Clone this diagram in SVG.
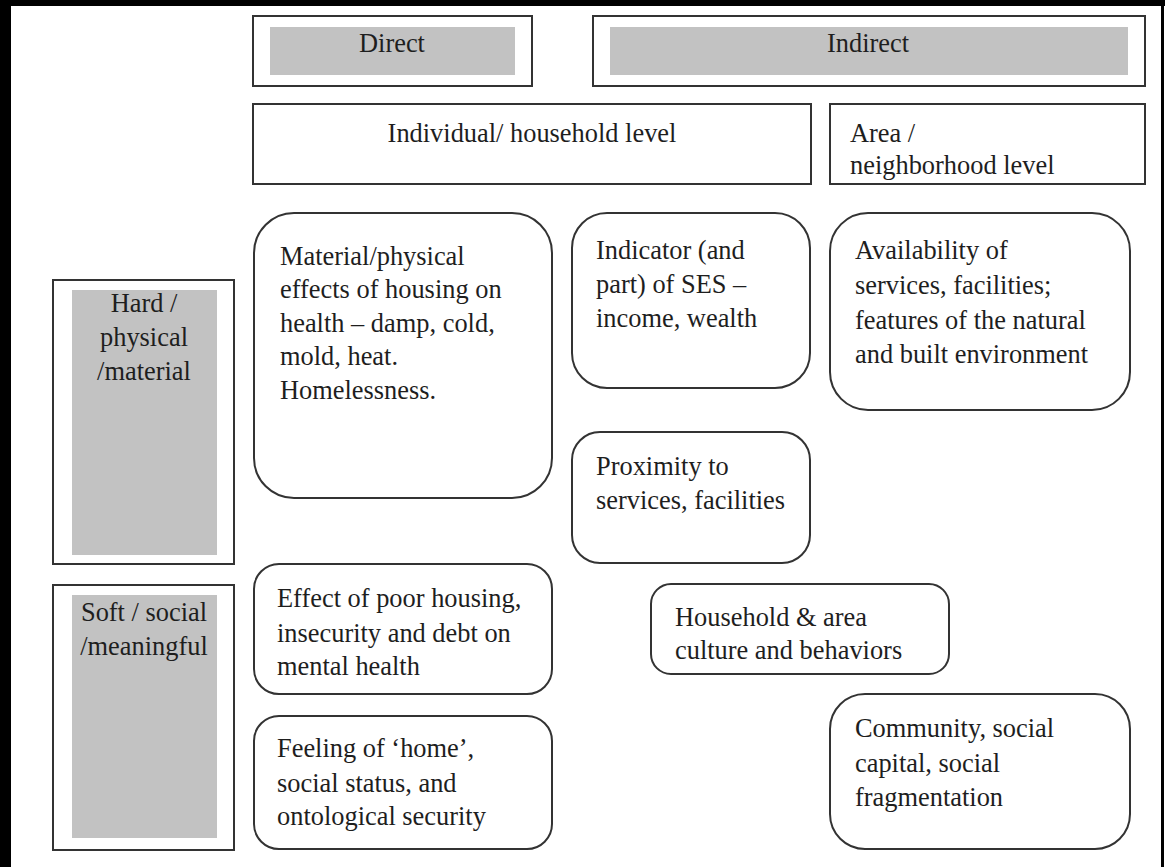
<svg xmlns="http://www.w3.org/2000/svg" width="1165" height="867" viewBox="0 0 1165 867" font-family="Liberation Serif, Times New Roman, serif">
<style>
text{font-family:"Liberation Serif","Times New Roman",serif;font-size:26.4px;fill:#1e1e1e}
.box{fill:#fff;stroke:#333;stroke-width:2}
.gray{fill:#c2c2c2;stroke:none}
.rnd{fill:#fff;stroke:#333;stroke-width:2}
.c{text-anchor:middle}
</style>
<rect x="0" y="0" width="1165" height="867" fill="#fff"/>
<g id="frame">
<rect x="0" y="0" width="1165" height="6" fill="#000"/>
<rect x="0" y="0" width="11" height="867" fill="#000"/>
<rect x="1161" y="0" width="3" height="867" fill="#000"/>
</g>
<g id="direct">
<rect class="box" x="253" y="16" width="279" height="70"/>
<rect class="gray" x="270" y="27" width="245" height="48"/>
<text class="c" x="392" y="52">Direct</text>
</g>
<g id="indirect">
<rect class="box" x="593" y="16" width="552" height="70"/>
<rect class="gray" x="610" y="27" width="518" height="48"/>
<text class="c" x="868" y="52">Indirect</text>
</g>
<g id="individual">
<rect class="box" x="253" y="104" width="558" height="80"/>
<text class="c" x="532" y="142">Individual/ household level</text>
</g>
<g id="area">
<rect class="box" x="830" y="104" width="315" height="80"/>
<text x="850" y="142">Area /</text>
<text x="850" y="174">neighborhood level</text>
</g>
<g id="hard">
<rect class="box" x="53" y="280" width="181" height="284"/>
<rect class="gray" x="72" y="290" width="145" height="265"/>
<text class="c" x="144" y="312">Hard /</text>
<text class="c" x="144" y="346">physical</text>
<text class="c" x="144" y="380">/material</text>
</g>
<g id="soft">
<rect class="box" x="53" y="585" width="181" height="265"/>
<rect class="gray" x="72" y="595" width="145" height="243"/>
<text class="c" x="144" y="621">Soft / social</text>
<text class="c" x="144" y="655">/meaningful</text>
</g>
<g id="material">
<rect class="rnd" x="254" y="213" width="298" height="285" rx="40"/>
<text x="280" y="265">Material/physical</text>
<text x="280" y="298">effects of housing on</text>
<text x="280" y="332">health – damp, cold,</text>
<text x="280" y="365">mold, heat.</text>
<text x="280" y="399">Homelessness.</text>
</g>
<g id="indicator">
<rect class="rnd" x="572" y="213" width="238" height="175" rx="35"/>
<text x="596" y="259">Indicator (and</text>
<text x="596" y="293">part) of SES –</text>
<text x="596" y="327">income, wealth</text>
</g>
<g id="availability">
<rect class="rnd" x="830" y="213" width="300" height="197" rx="38"/>
<text x="855" y="259">Availability of</text>
<text x="855" y="294">services, facilities;</text>
<text x="855" y="329">features of the natural</text>
<text x="855" y="363">and built environment</text>
</g>
<g id="proximity">
<rect class="rnd" x="572" y="432" width="238" height="131" rx="28"/>
<text x="596" y="475">Proximity to</text>
<text x="596" y="509">services, facilities</text>
</g>
<g id="effect">
<rect class="rnd" x="254" y="564" width="298" height="130" rx="25"/>
<text x="277" y="607">Effect of poor housing,</text>
<text x="277" y="642">insecurity and debt on</text>
<text x="277" y="675">mental health</text>
</g>
<g id="feeling">
<rect class="rnd" x="254" y="716" width="298" height="133" rx="25"/>
<text x="277" y="757">Feeling of ‘home’,</text>
<text x="277" y="792">social status, and</text>
<text x="277" y="825">ontological security</text>
</g>
<g id="household">
<rect class="rnd" x="651" y="584" width="298" height="90" rx="20"/>
<text x="675" y="626">Household &amp; area</text>
<text x="675" y="659">culture and behaviors</text>
</g>
<g id="community">
<rect class="rnd" x="830" y="694" width="300" height="155" rx="35"/>
<text x="855" y="737">Community, social</text>
<text x="855" y="772">capital, social</text>
<text x="855" y="806">fragmentation</text>
</g>
<g id="connectors"></g>
</svg>
